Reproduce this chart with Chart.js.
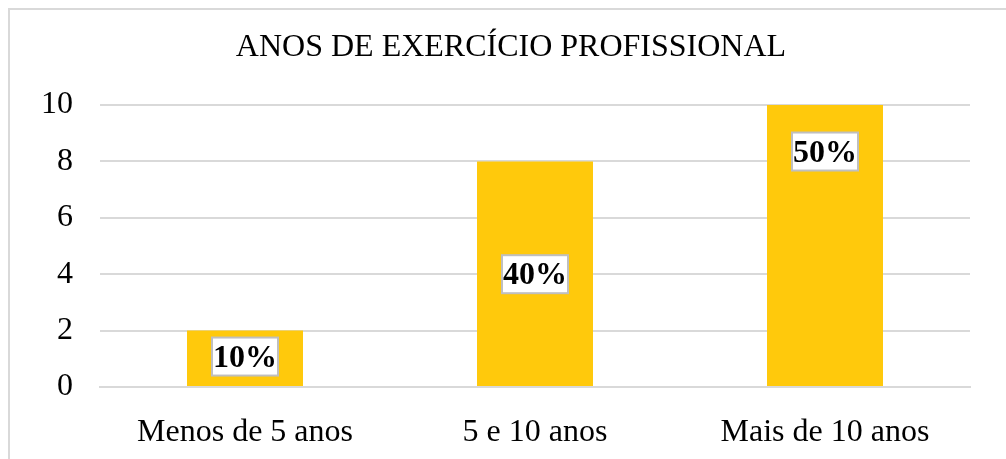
<!DOCTYPE html>
<html>
<head>
<meta charset="utf-8">
<script src="https://cdn.jsdelivr.net/npm/chart.js@4"></script>
<style>
  html, body { margin: 0; padding: 0; background: #fff; overflow: hidden; }
  #wrap { position: relative; width: 1006px; height: 459px; }
  #frame { position: absolute; left: 8px; top: 8px; width: 1100px; height: 600px; border: 2px solid #d9d9d9; box-sizing: border-box; }
  canvas { position: absolute; left: 0; top: 0; }
</style>
</head>
<body>
<div id="wrap">
  <div id="frame"></div>
  <canvas id="chart" width="1006" height="459"></canvas>
</div>
<script>
const chartTitle = 'ANOS DE EXERCÍCIO PROFISSIONAL';
const categories = ['Menos de 5 anos', '5 e 10 anos', 'Mais de 10 anos'];
const counts = [2, 8, 10];
const percentLabels = ['10%', '40%', '50%'];
// where each percent box sits, in axis units (hand-placed in the original)
const labelAt = [1.08, 4.0, 8.35];

const serif = "'Liberation Serif', 'Times New Roman', serif";

const titlePlugin = {
    id: 'topTitle',
    afterDraw(chart) {
        const ctx = chart.ctx;
        ctx.save();
        ctx.font = `32px ${serif}`;
        ctx.fillStyle = '#000';
        ctx.textAlign = 'center';
        ctx.textBaseline = 'middle';
        ctx.fillText(chartTitle, 511, 48);
        ctx.restore();
    }
};

const boxLabels = {
    id: 'boxLabels',
    afterDatasetsDraw(chart) {
        const ctx = chart.ctx;
        const meta = chart.getDatasetMeta(0);
        const y = chart.scales.y;
        ctx.save();
        ctx.font = `bold 32px ${serif}`;
        ctx.textAlign = 'center';
        ctx.textBaseline = 'middle';
        meta.data.forEach((bar, i) => {
            const cy = y.getPixelForValue(labelAt[i]);
            const w = 66, h = 38;
            ctx.fillStyle = '#fff';
            ctx.fillRect(bar.x - w / 2, cy - h / 2, w, h);
            ctx.strokeStyle = '#bfbfbf';
            ctx.lineWidth = 2;
            ctx.strokeRect(bar.x - w / 2, cy - h / 2, w, h);
            ctx.fillStyle = '#000';
            ctx.fillText(percentLabels[i], bar.x, cy + 2);
        });
        ctx.restore();
    }
};

new Chart(document.getElementById('chart'), {
    type: 'bar',
    data: {
        labels: categories,
        datasets: [{
            data: counts,
            backgroundColor: '#FFC90C',
            barPercentage: 0.4,
            categoryPercentage: 1.0
        }]
    },
    options: {
        responsive: false,
        animation: false,
        events: [],
        layout: { padding: { top: 105, right: 36, left: 0, bottom: 0 } },
        plugins: {
            legend: { display: false },
            tooltip: { enabled: false },
            title: { display: false }
        },
        scales: {
            x: {
                grid: { display: false },
                border: { color: '#d9d9d9', width: 2 },
                ticks: { color: '#000', font: { family: serif, size: 32 }, padding: 18 },
                afterFit(s) { s.height = 72; }
            },
            y: {
                min: 0,
                max: 10,
                ticks: { stepSize: 2, color: '#000', font: { family: serif, size: 32 }, padding: 27 },
                grid: { color: '#d9d9d9', lineWidth: 2, drawTicks: false },
                border: { display: false },
                afterFit(s) { s.width = 100; }
            }
        }
    },
    plugins: [titlePlugin, boxLabels]
});
</script>
</body>
</html>
